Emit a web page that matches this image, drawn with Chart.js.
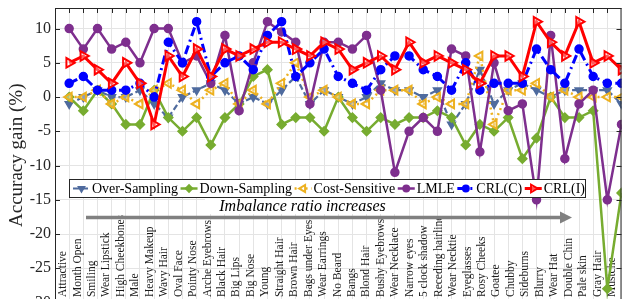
<!DOCTYPE html>
<html>
<head>
<meta charset="utf-8">
<title>Accuracy gain per attribute</title>
<script src="https://cdn.jsdelivr.net/npm/chart.js@4.4.1/dist/chart.umd.min.js"></script>
<style>
  html, body { margin: 0; padding: 0; background: #fff; overflow: hidden; }
  canvas { display: block; }
</style>
</head>
<body>
<canvas id="gainChart" width="629" height="310"></canvas>
<script>
// attributes, ordered by imbalance ratio (labels as printed in the figure)
const attributes = ['Attractive', 'Month Open', 'Smiling', 'Wear Lipstick', 'High Cheekbones', 'Male',
  'Heavy Makeup', 'Wavy Hair', 'Oval Face', 'Pointy Nose', 'Arche Eyebrows', 'Black Hair', 'Big Lips',
  'Big Nose', 'Young', 'Straight Hair', 'Brown Hair', 'Bags under Eyes', 'Wear Earrings', 'No Beard',
  'Bangs', 'Blond Hair', 'Bushy Eyebrows', 'Wear Necklace', 'Narrow eyes', '5 clock shadow',
  'Receding hairline', 'Wear Necktie', 'Eyeglasses', 'Rosy Cheeks', 'Goatee', 'Chubby', 'Sideburns',
  'Blurry', 'Wear Hat', 'Double Chin', 'Pale skin', 'Gray Hair', 'Mustche'];

// accuracy gain (%) per attribute, 40 points each
const overSampling  = [-1, 0, 1, 0, 0, 1, -1, -3, 0, 1, 2, 1, -1, 0, -1, 1, 3, -1, 1, 0,
                       -1, 0, 2, 1, 1, 0, 1, -4, -1, 4, -1, 1, 2, 1, 0, 1, 1, 1, 1, -1];
const downSampling  = [0, -2, 1, -1, -4, -4, 1, -3, -5, -3, -7, -3, -1, 3, 4, -4, -3, -3, -5, 0,
                       -3, -5, -3, -4, -3, -3, -2, -3, -7, -4, -5, -3, -9, -6, 0, -3, -3, -2, -28, -14];
const costSensitive = [0, 0, 1, -1, 0, -1, 1, 2, 1, -1, 1, 2, -1, 1, -1, 2, 5, 0, 1, 0,
                       -1, -1, 1, 1, 1, -1, 0, -1, -1, 6, -4, 1, 1, 2, 0, 1, 0, 0, 0, 0];
const lmle          = [10, 7, 10, 7, 8, 5, 10, 10, 5, 6, 2, 9, -2, 5, 11, 9.5, 8, -1, 8, 8,
                       7, 9, 1, -11, -5, -3, -5, 7, 6, -8, 5, -2, -1, -15, 9, -9, -1, 1, -15, -4];
const crlC          = [2, 3, 1, 1, 1, 2, 0, 8, 5, 11, 3, 5, 6, 4, 9, 11, 3, 5, 7, 3,
                       2, 1, 4, 6, 6, 4, 3, 1, 5, 1, 2, 2, 2, 7, 4, 2, 7, 3, 2, 2];
const crlI          = [5, 6, 4, 2, 5, 2, -4, 6, 3, 7, 3, 7, 6, 7, 8, 8, 7, 6, 8, 7,
                       4, 5, 6, 4, 8, 5, 6, 5, 4, 2, 6, 6, 3, 11, 8, 6, 11, 5, 6, 4];

const yTicks = { min: -30, max: 13, step: 5 };
const labelStep = 38.75 / 38;   // the printed names are spread a bit wider than the ticks

const serif = '"Liberation Serif", "Times New Roman", serif';

function toPoints(values) {
  return values.map((v, i) => ({ x: i + 1, y: v }));
}

function series(label, values, color, style) {
  return Object.assign({
    label: label,
    data: toPoints(values),
    borderColor: color,
    pointBorderColor: color,
    pointBackgroundColor: color,
    pointBorderWidth: 1.5,
    borderWidth: 2.5,
    pointRadius: 4,
    fill: false,
    tension: 0
  }, style);
}

const datasets = [
  series('Over-Sampling', overSampling, '#4f6b9e', { borderDash: [6, 3], pointStyle: 'triangle', pointRotation: 180, pointRadius: 4.5, borderWidth: 2.2, order: 6 }),
  series('Down-Sampling', downSampling, '#77ac30', { pointStyle: 'rectRot', pointRadius: 4.5, order: 5 }),
  series('Cost-Sensitive', costSensitive, '#edb120', { borderDash: [2, 3.5], pointStyle: 'triangle', pointRotation: -90, pointRadius: 5, pointBackgroundColor: 'rgba(255,255,255,0.35)', pointBorderWidth: 2, order: 4 }),
  series('LMLE', lmle, '#7e2f8e', { pointStyle: 'circle', pointRadius: 4, order: 3 }),
  series('CRL(C)', crlC, '#0000ff', { borderDash: [9, 4, 2, 4], pointStyle: 'circle', pointRadius: 4, borderWidth: 3, order: 2 }),
  series('CRL(I)', crlI, '#ff0000', { pointStyle: 'triangle', pointRotation: 90, pointRadius: 5.5, pointBackgroundColor: 'rgba(255,255,255,0.35)', pointBorderWidth: 2, borderWidth: 3, order: 1 })
];

function marker(ctx, ds, x, y, scale) {
  ctx.fillStyle = ds.pointBackgroundColor;
  ctx.strokeStyle = ds.pointBorderColor;
  ctx.lineWidth = ds.pointBorderWidth;
  if (Chart.helpers && Chart.helpers.drawPoint) {
    Chart.helpers.drawPoint(ctx, {
      pointStyle: ds.pointStyle,
      rotation: ds.pointRotation || 0,
      radius: ds.pointRadius * scale,
      borderWidth: ds.pointBorderWidth
    }, x, y);
  } else {
    ctx.beginPath();
    ctx.arc(x, y, ds.pointRadius * scale, 0, Math.PI * 2);
    ctx.fill();
    ctx.stroke();
  }
}

// axes box, inward ticks, attribute names, legend and the arrow note
const decorations = {
  id: 'decorations',
  beforeDatasetsDraw(chart) {
    const { ctx, chartArea: a, scales: { x, y } } = chart;
    ctx.save();
    ctx.beginPath();
    ctx.rect(a.left, a.top, a.right - a.left, a.bottom - a.top);
    ctx.clip();
    ctx.font = '11.5px ' + serif;
    ctx.fillStyle = '#1a1a1a';
    ctx.textAlign = 'left';
    ctx.textBaseline = 'alphabetic';
    const baseY = y.getPixelForValue(-29.2);
    attributes.forEach((name, j) => {
      const px = x.getPixelForValue(1 + j * labelStep) - 3;
      ctx.save();
      ctx.translate(px, baseY);
      ctx.rotate(-Math.PI / 2);
      ctx.fillText(name, 0, 0);
      ctx.restore();
    });
    ctx.restore();
  },
  afterDatasetsDraw(chart) {
    const { ctx } = chart;
    const items = chart.data.datasets;

    // legend box
    const box = { left: 69.5, top: 179.5, right: 585.5, bottom: 197.5 };
    ctx.save();
    ctx.fillStyle = '#fff';
    ctx.fillRect(box.left, box.top, box.right - box.left, box.bottom - box.top);
    ctx.strokeStyle = '#262626';
    ctx.lineWidth = 1;
    ctx.strokeRect(box.left, box.top, box.right - box.left, box.bottom - box.top);

    const cy = (box.top + box.bottom) / 2;
    ctx.font = '14px ' + serif;
    ctx.textBaseline = 'middle';
    ctx.textAlign = 'left';
    let cx = box.left + 3.5;
    items.forEach(ds => {
      ctx.save();
      ctx.strokeStyle = ds.borderColor;
      ctx.lineWidth = ds.borderWidth;
      ctx.setLineDash(ds.borderDash || []);
      ctx.beginPath();
      ctx.moveTo(cx, cy);
      ctx.lineTo(cx + 17, cy);
      ctx.stroke();
      ctx.setLineDash([]);
      marker(ctx, ds, cx + 8.5, cy, 0.8);
      ctx.restore();
      ctx.fillStyle = '#000';
      ctx.fillText(ds.label, cx + 19, cy + 0.5);
      cx += 19 + ctx.measureText(ds.label).width + 2.5;
    });

    // "Imbalance ratio increases" note with its arrow
    ctx.fillStyle = '#fff';
    ctx.fillRect(205, 198, 195, 16);
    ctx.fillStyle = '#000';
    ctx.font = 'italic 16px ' + serif;
    ctx.textAlign = 'center';
    ctx.fillText('Imbalance ratio increases', 302.5, 206.5);

    const ay = 217.5;
    ctx.strokeStyle = '#808080';
    ctx.fillStyle = '#808080';
    ctx.lineWidth = 3.5;
    ctx.beginPath();
    ctx.moveTo(86, ay);
    ctx.lineTo(561, ay);
    ctx.stroke();
    ctx.beginPath();
    ctx.moveTo(572, ay);
    ctx.lineTo(560, ay - 6);
    ctx.lineTo(560, ay + 6);
    ctx.closePath();
    ctx.fill();
    ctx.restore();
  },
  afterDraw(chart) {
    const { ctx, chartArea: a, scales: { x, y } } = chart;
    ctx.save();
    ctx.strokeStyle = '#262626';
    ctx.lineWidth = 1;
    ctx.beginPath();
    // top and right edges
    ctx.moveTo(a.left, a.top + 0.5);
    ctx.lineTo(a.right, a.top + 0.5);
    ctx.moveTo(a.right - 0.5, a.top);
    ctx.lineTo(a.right - 0.5, a.bottom);
    // top ticks, one per attribute
    for (let i = 1; i < 40; i++) {
      const px = Math.round(x.getPixelForValue(i)) + 0.5;
      ctx.moveTo(px, a.top);
      ctx.lineTo(px, a.top + 5);
    }
    // left and right ticks
    for (let v = yTicks.min; v <= yTicks.max; v += yTicks.step) {
      const py = Math.round(y.getPixelForValue(v)) + 0.5;
      ctx.moveTo(a.left, py);
      ctx.lineTo(a.left + 5, py);
      ctx.moveTo(a.right, py);
      ctx.lineTo(a.right - 5, py);
    }
    ctx.stroke();
    ctx.restore();
  }
};

new Chart(document.getElementById('gainChart'), {
  type: 'line',
  data: { datasets: datasets },
  options: {
    responsive: false,
    devicePixelRatio: 1,
    animation: false,
    layout: { padding: { top: 8, right: 0.5, bottom: 2.5, left: 0 } },
    plugins: {
      legend: { display: false },
      tooltip: { enabled: false }
    },
    scales: {
      x: {
        type: 'linear',
        min: 0,
        max: 40,
        ticks: { display: false, stepSize: 1 },
        grid: { color: '#e4e4e4', lineWidth: 1, drawTicks: false },
        border: { display: false },
        afterFit: scale => {
          scale.height = 0;
          scale.paddingLeft = 0;
          scale.paddingRight = 0;
        }
      },
      y: {
        min: yTicks.min,
        max: yTicks.max,
        ticks: {
          stepSize: yTicks.step,
          includeBounds: false,
          padding: 4,
          color: '#262626',
          font: { family: serif, size: 16 }
        },
        grid: { color: '#e4e4e4', lineWidth: 1, drawTicks: false },
        border: { display: true, color: '#262626', width: 1 },
        title: {
          display: true,
          text: 'Accuracy gain (%)',
          color: '#262626',
          font: { family: serif, size: 19 },
          padding: { top: 6, bottom: 0 }
        },
        afterFit: scale => {
          scale.width = 55;
          scale.paddingTop = 0;
          scale.paddingBottom = 0;
        }
      }
    }
  },
  plugins: [decorations]
});
</script>
</body>
</html>
